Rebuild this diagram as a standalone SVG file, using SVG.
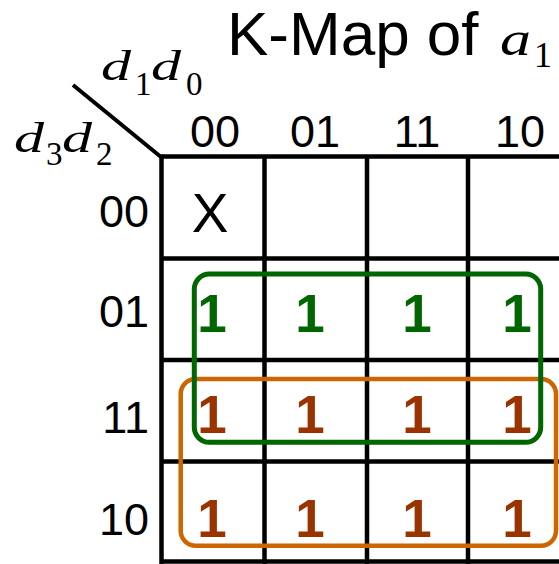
<svg xmlns="http://www.w3.org/2000/svg" width="559" height="564" viewBox="0 0 559 564">
<style>
.grid{stroke:#000;stroke-width:4.5;fill:none}
.lbl{font-family:"Liberation Sans",Arial,sans-serif;font-size:45px;fill:#000}
.math{font-family:"Liberation Serif","Times New Roman",serif;font-style:italic;fill:#000}
.sub{font-family:"Liberation Serif","Times New Roman",serif;fill:#000}
.one{font-family:"Liberation Sans",Arial,sans-serif;font-weight:bold;font-size:53px;text-anchor:middle}
.g{fill:#006600}
.r{fill:#993300}
</style>
<rect width="559" height="564" fill="#fff"/>
<g id="title">
<text x="227" y="55" font-family="Liberation Sans, Arial, sans-serif" font-size="62">K-Map of</text>
<text class="math" x="500" y="55" font-size="48" textLength="31" lengthAdjust="spacingAndGlyphs">a</text>
<text class="sub" x="534" y="67" font-size="36">1</text>
</g>
<g id="axis-labels">
<line x1="73" y1="85" x2="161" y2="157" stroke="#000" stroke-width="4"/>
<text class="math" x="101" y="80" font-size="43" textLength="30" lengthAdjust="spacingAndGlyphs">d</text>
<text class="sub" x="135" y="95" font-size="33">1</text>
<text class="math" x="151" y="80" font-size="43" textLength="30" lengthAdjust="spacingAndGlyphs">d</text>
<text class="sub" x="186" y="95" font-size="33">0</text>
<text class="math" x="14" y="152" font-size="43" textLength="30" lengthAdjust="spacingAndGlyphs">d</text>
<text class="sub" x="46" y="165" font-size="33">3</text>
<text class="math" x="62" y="152" font-size="43" textLength="30" lengthAdjust="spacingAndGlyphs">d</text>
<text class="sub" x="96" y="165" font-size="33">2</text>
</g>
<g id="col-labels" class="lbl" text-anchor="middle">
<text x="215" y="147">00</text>
<text x="315" y="147">01</text>
<text x="417" y="147">11</text>
<text x="520" y="147">10</text>
</g>
<g id="row-labels" class="lbl" text-anchor="end" font-size="46">
<text x="149" y="227">00</text>
<text x="149" y="327">01</text>
<text x="149" y="433">11</text>
<text x="149" y="535">10</text>
</g>
<g id="grid" class="grid">
<line x1="161.5" y1="156.5" x2="561" y2="156.5"/>
<line x1="161.5" y1="258.5" x2="561" y2="258.5"/>
<line x1="161.5" y1="360" x2="561" y2="360"/>
<line x1="161.5" y1="461.5" x2="561" y2="461.5"/>
<line x1="161.5" y1="561.5" x2="561" y2="561.5"/>
<line x1="161.5" y1="154.5" x2="161.5" y2="566"/>
<line x1="264.5" y1="156.5" x2="264.5" y2="566"/>
<line x1="367" y1="156.5" x2="367" y2="566"/>
<line x1="468" y1="156.5" x2="468" y2="566"/>
</g>
<g id="cell-0000">
<text x="210" y="232" font-family="Liberation Sans, Arial, sans-serif" font-size="55" text-anchor="middle">X</text>
</g>
<g id="row-01-cells" class="one g">
<text x="212" y="332">1</text>
<text x="310" y="332">1</text>
<text x="417" y="332">1</text>
<text x="517" y="332">1</text>
</g>
<g id="row-11-cells" class="one r">
<text x="212" y="433">1</text>
<text x="310" y="433">1</text>
<text x="417" y="433">1</text>
<text x="517" y="433">1</text>
</g>
<g id="row-10-cells" class="one r">
<text x="212" y="537">1</text>
<text x="310" y="537">1</text>
<text x="417" y="537">1</text>
<text x="517" y="537">1</text>
</g>
<g id="groups" fill="none">
<rect id="group-orange" x="180.7" y="379" width="375.3" height="166.7" rx="15" stroke="#CC6600" stroke-width="4.5"/>
<rect id="group-green" x="194.3" y="274" width="346.4" height="168.3" rx="15" stroke="#006600" stroke-width="5"/>
</g>
</svg>
